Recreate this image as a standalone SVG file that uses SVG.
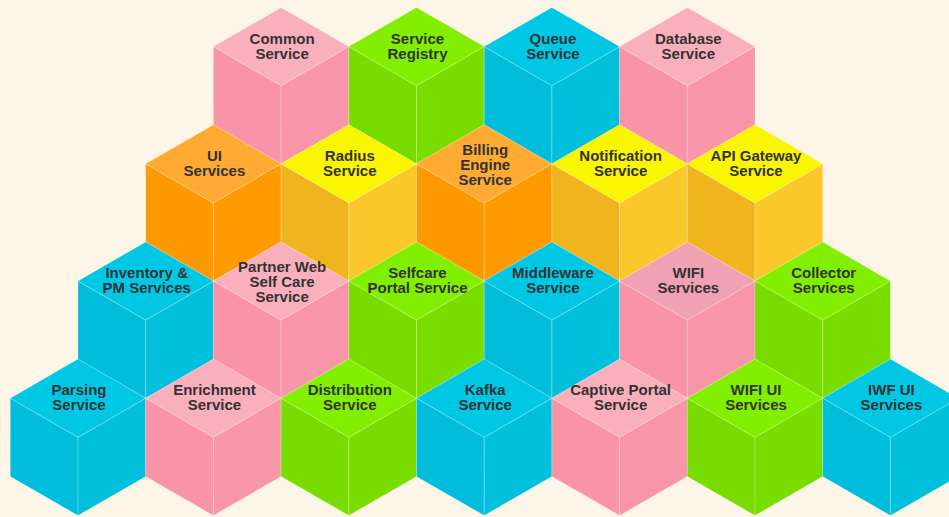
<svg xmlns="http://www.w3.org/2000/svg" width="949" height="517" viewBox="0 0 949 517">
<style>
.bg{fill:#FDF6E8}
.cube use{stroke:#ffffff;stroke-opacity:0.28;stroke-width:0.8}
.pink .t{fill:#FAB0BC}.pink .l{fill:#F993A7}.pink .r{fill:#F995A8}
.pinkm .t{fill:#F0A1B4}
.green .t{fill:#82EE00}.green .l{fill:#78DC00}.green .r{fill:#79DD00}
.cyan .t{fill:#00C8E4}.cyan .l{fill:#00BEDB}.cyan .r{fill:#00C0DC}
.orange .t{fill:#FFAA33}.orange .l{fill:#FF9900}.orange .r{fill:#FF9A00}
.yellow .t{fill:#FAF500}.yellow .l{fill:#F0B41E}.yellow .r{fill:#FAC82A}
text{font-family:"Liberation Sans",Arial,sans-serif;font-weight:bold;font-size:15px;fill:#333333;text-anchor:middle}
</style>
<defs>
<path id="ct" d="M0,0 L67.7,39.1 L0,78.2 L-67.7,39.1Z"/>
<path id="cl" d="M-67.7,39.1 L0,78.2 L0,156.4 L-67.7,117.3Z"/>
<path id="cr" d="M0,78.2 L67.7,39.1 L67.7,117.3 L0,156.4Z"/>
</defs>
<rect class="bg" x="0" y="0" width="949" height="517"/>
<g id="connectors"/>
<!-- Row 0 -->
<g id="common-service" class="cube pink" transform="translate(281.1,7.5)"><use href="#cl" class="l"/><use href="#cr" class="r"/><use href="#ct" class="t"/><text y="36"><tspan x="1">Common</tspan><tspan x="1" dy="15">Service</tspan></text></g>
<g id="service-registry" class="cube green" transform="translate(416.5,7.5)"><use href="#cl" class="l"/><use href="#cr" class="r"/><use href="#ct" class="t"/><text y="36"><tspan x="1">Service</tspan><tspan x="1" dy="15">Registry</tspan></text></g>
<g id="queue-service" class="cube cyan" transform="translate(551.9,7.5)"><use href="#cl" class="l"/><use href="#cr" class="r"/><use href="#ct" class="t"/><text y="36"><tspan x="1">Queue</tspan><tspan x="1" dy="15">Service</tspan></text></g>
<g id="database-service" class="cube pink" transform="translate(687.3,7.5)"><use href="#cl" class="l"/><use href="#cr" class="r"/><use href="#ct" class="t"/><text y="36"><tspan x="1">Database</tspan><tspan x="1" dy="15">Service</tspan></text></g>
<!-- Row 1 -->
<g id="ui-services" class="cube orange" transform="translate(213.4,124.7)"><use href="#cl" class="l"/><use href="#cr" class="r"/><use href="#ct" class="t"/><text y="36"><tspan x="1">UI</tspan><tspan x="1" dy="15">Services</tspan></text></g>
<g id="radius-service" class="cube yellow" transform="translate(348.8,124.7)"><use href="#cl" class="l"/><use href="#cr" class="r"/><use href="#ct" class="t"/><text y="36"><tspan x="1">Radius</tspan><tspan x="1" dy="15">Service</tspan></text></g>
<g id="billing-engine-service" class="cube orange" transform="translate(484.2,124.7)"><use href="#cl" class="l"/><use href="#cr" class="r"/><use href="#ct" class="t"/><text y="30"><tspan x="1">Billing</tspan><tspan x="1" dy="15">Engine</tspan><tspan x="1" dy="15">Service</tspan></text></g>
<g id="notification-service" class="cube yellow" transform="translate(619.6,124.7)"><use href="#cl" class="l"/><use href="#cr" class="r"/><use href="#ct" class="t"/><text y="36"><tspan x="1">Notification</tspan><tspan x="1" dy="15">Service</tspan></text></g>
<g id="api-gateway-service" class="cube yellow" transform="translate(755,124.7)"><use href="#cl" class="l"/><use href="#cr" class="r"/><use href="#ct" class="t"/><text y="36"><tspan x="1">API Gateway</tspan><tspan x="1" dy="15">Service</tspan></text></g>
<!-- Row 2 -->
<g id="inventory-pm-services" class="cube cyan" transform="translate(145.7,241.9)"><use href="#cl" class="l"/><use href="#cr" class="r"/><use href="#ct" class="t"/><text y="36"><tspan x="1">Inventory &amp;</tspan><tspan x="1" dy="15">PM Services</tspan></text></g>
<g id="partner-web-self-care-service" class="cube pink" transform="translate(281.1,241.9)"><use href="#cl" class="l"/><use href="#cr" class="r"/><use href="#ct" class="t"/><text y="30"><tspan x="1">Partner Web</tspan><tspan x="1" dy="15">Self Care</tspan><tspan x="1" dy="15">Service</tspan></text></g>
<g id="selfcare-portal-service" class="cube green" transform="translate(416.5,241.9)"><use href="#cl" class="l"/><use href="#cr" class="r"/><use href="#ct" class="t"/><text y="36"><tspan x="1">Selfcare</tspan><tspan x="1" dy="15">Portal Service</tspan></text></g>
<g id="middleware-service" class="cube cyan" transform="translate(551.9,241.9)"><use href="#cl" class="l"/><use href="#cr" class="r"/><use href="#ct" class="t"/><text y="36"><tspan x="1">Middleware</tspan><tspan x="1" dy="15">Service</tspan></text></g>
<g id="wifi-services" class="cube pink pinkm" transform="translate(687.3,241.9)"><use href="#cl" class="l"/><use href="#cr" class="r"/><use href="#ct" class="t"/><text y="36"><tspan x="1">WIFI</tspan><tspan x="1" dy="15">Services</tspan></text></g>
<g id="collector-services" class="cube green" transform="translate(822.7,241.9)"><use href="#cl" class="l"/><use href="#cr" class="r"/><use href="#ct" class="t"/><text y="36"><tspan x="1">Collector</tspan><tspan x="1" dy="15">Services</tspan></text></g>
<!-- Row 3 -->
<g id="parsing-service" class="cube cyan" transform="translate(78,359.1)"><use href="#cl" class="l"/><use href="#cr" class="r"/><use href="#ct" class="t"/><text y="36"><tspan x="1">Parsing</tspan><tspan x="1" dy="15">Service</tspan></text></g>
<g id="enrichment-service" class="cube pink" transform="translate(213.4,359.1)"><use href="#cl" class="l"/><use href="#cr" class="r"/><use href="#ct" class="t"/><text y="36"><tspan x="1">Enrichment</tspan><tspan x="1" dy="15">Service</tspan></text></g>
<g id="distribution-service" class="cube green" transform="translate(348.8,359.1)"><use href="#cl" class="l"/><use href="#cr" class="r"/><use href="#ct" class="t"/><text y="36"><tspan x="1">Distribution</tspan><tspan x="1" dy="15">Service</tspan></text></g>
<g id="kafka-service" class="cube cyan" transform="translate(484.2,359.1)"><use href="#cl" class="l"/><use href="#cr" class="r"/><use href="#ct" class="t"/><text y="36"><tspan x="1">Kafka</tspan><tspan x="1" dy="15">Service</tspan></text></g>
<g id="captive-portal-service" class="cube pink" transform="translate(619.6,359.1)"><use href="#cl" class="l"/><use href="#cr" class="r"/><use href="#ct" class="t"/><text y="36"><tspan x="1">Captive Portal</tspan><tspan x="1" dy="15">Service</tspan></text></g>
<g id="wifi-ui-services" class="cube green" transform="translate(755,359.1)"><use href="#cl" class="l"/><use href="#cr" class="r"/><use href="#ct" class="t"/><text y="36"><tspan x="1">WIFI UI</tspan><tspan x="1" dy="15">Services</tspan></text></g>
<g id="iwf-ui-services" class="cube cyan" transform="translate(890.4,359.1)"><use href="#cl" class="l"/><use href="#cr" class="r"/><use href="#ct" class="t"/><text y="36"><tspan x="1">IWF UI</tspan><tspan x="1" dy="15">Services</tspan></text></g>
</svg>
